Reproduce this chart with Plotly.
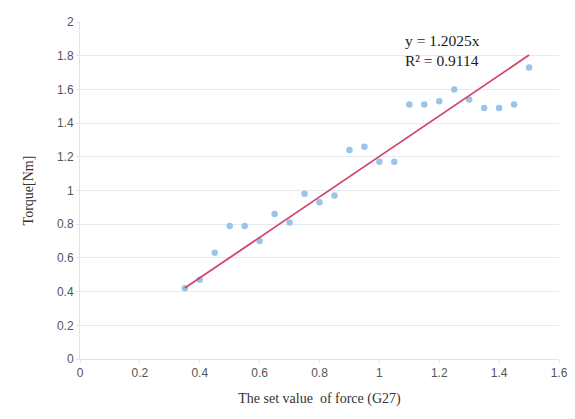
import plotly.graph_objects as go

force = [0.35, 0.40, 0.45, 0.50, 0.55, 0.60, 0.65, 0.70, 0.75, 0.80, 0.85, 0.90,
         0.95, 1.00, 1.05, 1.10, 1.15, 1.20, 1.25, 1.30, 1.35, 1.40, 1.45, 1.50]
torque = [0.42, 0.47, 0.63, 0.79, 0.79, 0.70, 0.86, 0.81, 0.98, 0.93, 0.97, 1.24,
          1.26, 1.17, 1.17, 1.51, 1.51, 1.53, 1.60, 1.54, 1.49, 1.49, 1.51, 1.73]
slope = 1.2025
r2 = 0.9114
trend_x = [min(force), max(force)]
trend_y = [slope * v for v in trend_x]

x_ticks = [0, 0.2, 0.4, 0.6, 0.8, 1, 1.2, 1.4, 1.6]
y_ticks = [0, 0.2, 0.4, 0.6, 0.8, 1, 1.2, 1.4, 1.6, 1.8, 2]

fig = go.Figure()
fig.add_trace(go.Scatter(x=force, y=torque, mode="markers",
                         marker=dict(color="#9cc3e8", size=6.5), showlegend=False))
fig.add_trace(go.Scatter(x=trend_x, y=trend_y, mode="lines",
                         line=dict(color="#d2456a", width=1.8), showlegend=False))

fig.add_annotation(xref="paper", yref="paper", x=0.675, y=0.975, xanchor="left", yanchor="top",
                   text=f"y = {slope}x<br>R² = {r2}", showarrow=False, align="left",
                   font=dict(family="Liberation Serif", size=15.5, color="#1a1a1a"))

fig.update_layout(
    width=575, height=419,
    margin=dict(l=80, r=16, t=22, b=60),
    paper_bgcolor="white", plot_bgcolor="white",
    font=dict(family="Liberation Sans", size=12, color="#555555"),
)
fig.update_xaxes(range=[0, 1.6], tickvals=x_ticks, ticktext=[f"{v:g}" for v in x_ticks],
                 automargin=False,
                 showgrid=False, zeroline=False, showline=True, linecolor="#dce4ee",
                 ticks="outside", ticklen=3, tickcolor="#dce4ee",
                 title=dict(text="The set value  of force (G27)", standoff=13,
                            font=dict(family="Liberation Serif", size=14, color="#333333")))
fig.update_yaxes(range=[0, 2], tickvals=y_ticks, ticktext=[f"{v:g}" for v in y_ticks],
                 automargin=False,
                 showgrid=True, gridcolor="#e6ebf2", zeroline=False,
                 showline=True, linecolor="#dce4ee",
                 ticks="outside", ticklen=3, tickcolor="#dce4ee",
                 title=dict(text="Torque[Nm]", standoff=20,
                            font=dict(family="Liberation Serif", size=14, color="#333333")))

fig.write_html("out.html")
